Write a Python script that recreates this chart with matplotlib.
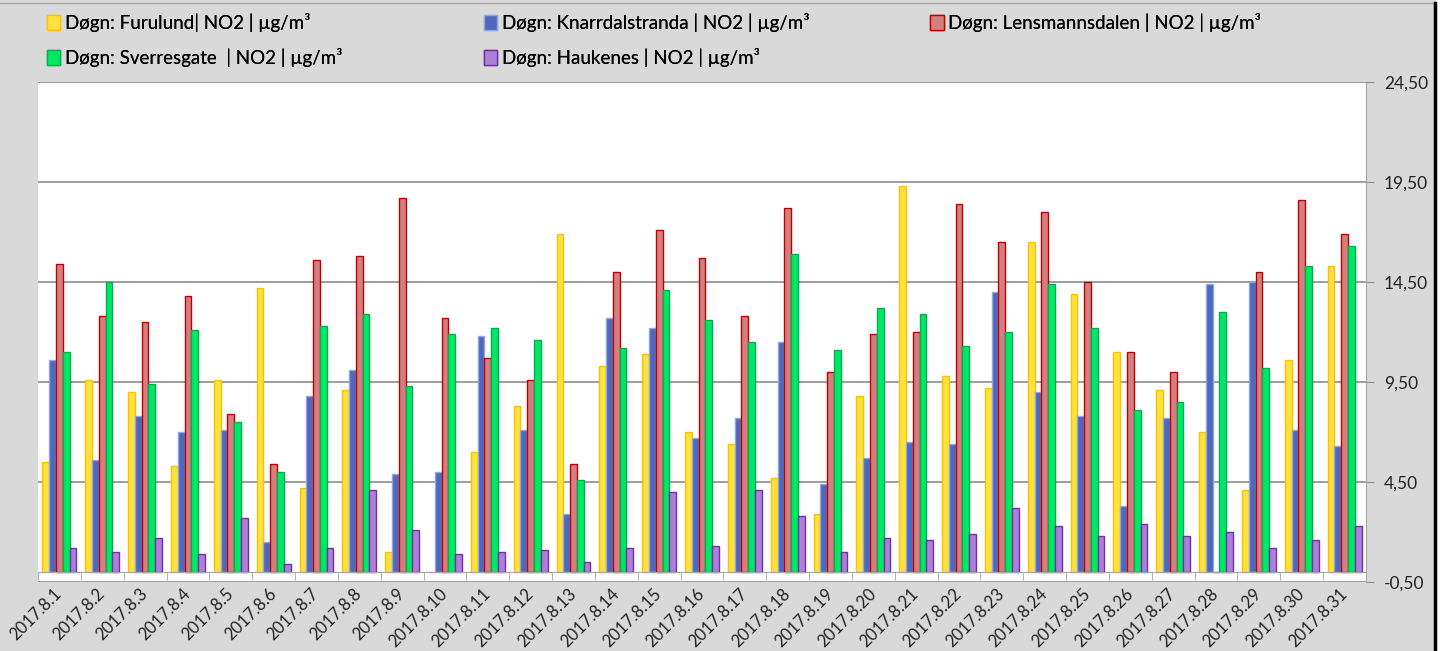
import matplotlib
matplotlib.use('Agg')
import matplotlib.pyplot as plt
import numpy as np
from matplotlib.lines import Line2D
from matplotlib.patches import Rectangle
from matplotlib.ticker import FuncFormatter, FixedLocator

plt.rcParams['font.family'] = ['Lato', 'DejaVu Sans']

days = [f'2017.8.{d}' for d in range(1, 32)]

furulund = [5.5, 9.6, 9.0, 5.3, 9.6, 14.2, 4.2, 9.1, 1.0, 0.0, 6.0,
            8.3, 16.9, 10.3, 10.9, 7.0, 6.4, 4.7, 2.9, 8.8, 19.3,
            9.8, 9.2, 16.5, 13.9, 11.0, 9.1, 7.0, 4.1, 10.6, 15.3]
knarrdalstranda = [10.6, 5.6, 7.8, 7.0, 7.1, 1.5, 8.8, 10.1, 4.9, 5.0, 11.8,
                   7.1, 2.9, 12.7, 12.2, 6.7, 7.7, 11.5, 4.4, 5.7, 6.5,
                   6.4, 14.0, 9.0, 7.8, 3.3, 7.7, 14.4, 14.5, 7.1, 6.3]
lensmannsdalen = [15.4, 12.8, 12.5, 13.8, 7.9, 5.4, 15.6, 15.8, 18.7, 12.7, 10.7,
                  9.6, 5.4, 15.0, 17.1, 15.7, 12.8, 18.2, 10.0, 11.9, 12.0,
                  18.4, 16.5, 18.0, 14.5, 11.0, 10.0, 0.0, 15.0, 18.6, 16.9]
sverresgate = [11.0, 14.5, 9.4, 12.1, 7.5, 5.0, 12.3, 12.9, 9.3, 11.9, 12.2,
               11.6, 4.6, 11.2, 14.1, 12.6, 11.5, 15.9, 11.1, 13.2, 12.9,
               11.3, 12.0, 14.4, 12.2, 8.1, 8.5, 13.0, 10.2, 15.3, 16.3]
haukenes = [1.2, 1.0, 1.7, 0.9, 2.7, 0.4, 1.2, 4.1, 2.1, 0.9, 1.0,
            1.1, 0.5, 1.2, 4.0, 1.3, 4.1, 2.8, 1.0, 1.7, 1.6,
            1.9, 3.2, 2.3, 1.8, 2.4, 1.8, 2.0, 1.2, 1.6, 2.3]

series = [
    ('Døgn: Furulund| NO2 | µg/m³', furulund, '#ffe23f', '#ffc000'),
    ('Døgn: Knarrdalstranda | NO2 | µg/m³', knarrdalstranda, '#4f67bd', '#8ea9db'),
    ('Døgn: Lensmannsdalen | NO2 | µg/m³', lensmannsdalen, '#d47f7f', '#c00000'),
    ('Døgn: Sverresgate  | NO2 | µg/m³', sverresgate, '#00e865', '#00b050'),
    ('Døgn: Haukenes | NO2 | µg/m³', haukenes, '#ad7fd9', '#7030a0'),
]

bg = '#d9d9d9'
fig = plt.figure(figsize=(14.44, 6.51), dpi=100, facecolor=bg)
ax = fig.add_axes([38 / 1444, 1 - 582 / 651, 1328 / 1444, 500 / 651])
ax.set_facecolor('white')

x = np.arange(len(days))
w = 0.158
handles = []
for i, (name, vals, fc, ec) in enumerate(series):
    b = ax.bar(x + (i - 2) * w, vals, width=w, color=fc, edgecolor=ec,
               linewidth=1.0, label=name, zorder=3)
    handles.append(b)

ax.set_xlim(-0.5, len(days) - 0.5)
ax.set_ylim(-0.5, 24.5)

# y axis on the right
ax.yaxis.tick_right()
ax.set_yticks(np.arange(-0.5, 24.6, 5))
ax.yaxis.set_major_formatter(FuncFormatter(lambda v, p: f'{v:.2f}'.replace('.', ',')))
ax.tick_params(axis='y', length=6, color='#8c8c8c', labelsize=12.5, pad=7,
               labelcolor='#222222')
ax.grid(axis='y', color='#8c8c8c', linewidth=1.2, zorder=1)

for s in ['left', 'top']:
    ax.spines[s].set_visible(False)
ax.spines['right'].set_color('#a6a6a6')
ax.spines['bottom'].set_position(('data', 0))
ax.spines['bottom'].set_color('#a6a6a6')
ax.spines['bottom'].set_zorder(4)

ax.set_xticks(x)
ax.set_xticklabels(days, rotation=45, ha='right', rotation_mode='anchor',
                   va='center')
ax.xaxis.set_minor_locator(FixedLocator(np.arange(-0.5, len(days), 1)))
ax.tick_params(axis='x', which='major', length=0, pad=14, labelsize=12,
               labelcolor='#222222')
ax.tick_params(axis='x', which='minor', length=6, color='#a6a6a6', direction='out')

# legend: three columns placed across the top
cols = [([handles[0], handles[3]], 0.022),
        ([handles[1], handles[4]], 0.325),
        ([handles[2]], 0.634)]
for hs, xpos in cols:
    leg = fig.legend(handles=hs, labels=[h.get_label() for h in hs],
                     loc='upper left', bbox_to_anchor=(xpos, 1.003),
                     frameon=False, fontsize=13.5, handlelength=0.7,
                     handleheight=0.8, handletextpad=0.25, labelspacing=0.85,
                     borderaxespad=0.4)
    fig.add_artist(leg)

# chart area border
fig.add_artist(Line2D([0, 1433 / 1444], [1 - 3 / 651] * 2, color='#a6a6a6',
                      linewidth=1.0, transform=fig.transFigure))
fig.add_artist(Rectangle((1436 / 1444, 0), 8 / 1444, 1, facecolor='white',
                         edgecolor='none', transform=fig.transFigure))
fig.add_artist(Line2D([1434.5 / 1444] * 2, [0, 1 - 3 / 651], color='black',
                      linewidth=2.5, transform=fig.transFigure))

fig.savefig('out.png', dpi=100, facecolor=bg)
